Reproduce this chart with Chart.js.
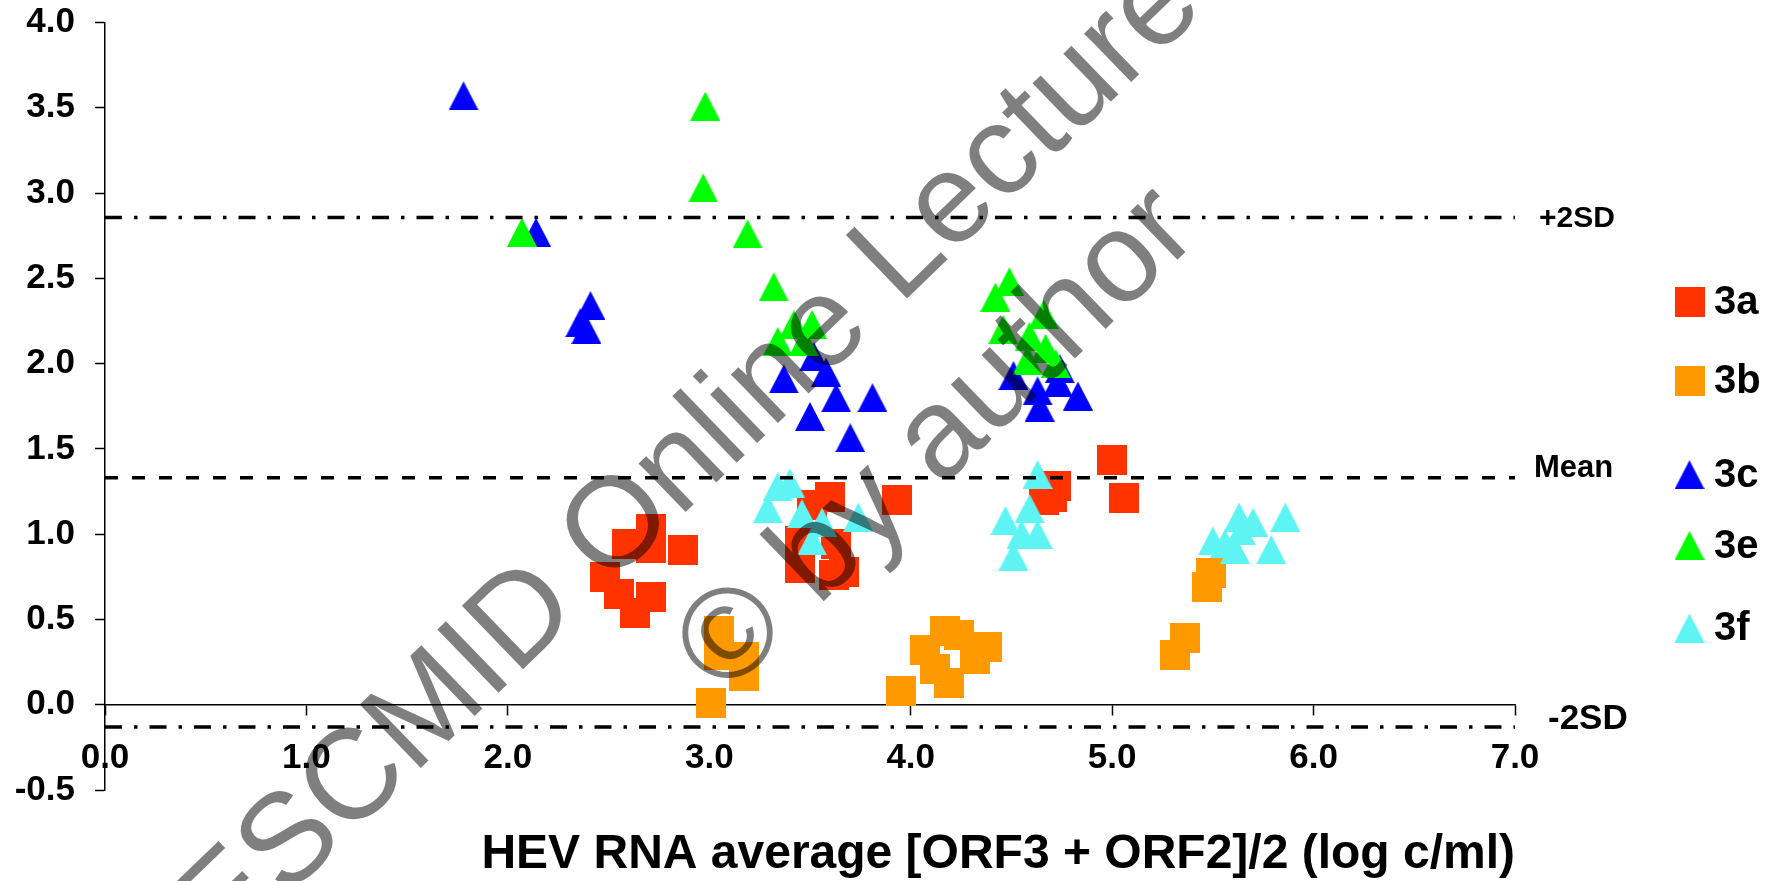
<!DOCTYPE html>
<html>
<head>
<meta charset="utf-8">
<script src="https://cdn.jsdelivr.net/npm/chart.js@4"></script>
<style>
  html, body { margin: 0; padding: 0; background: #fff; }
  #wrap { width: 1775px; height: 881px; }
</style>
</head>
<body>
<div id="wrap"><canvas id="myChart" width="1775" height="881"></canvas></div>
<script>
// genotype series: [average log c/ml, difference]
const g3a = [
  [2.71, 1.03], [2.59, 0.94], [2.71, 0.92], [2.87, 0.91], [2.48, 0.75], [2.55, 0.65],
  [2.71, 0.63], [2.63, 0.54], [3.51, 1.17], [3.60, 1.22], [3.93, 1.20], [3.45, 0.96],
  [3.45, 0.80], [3.63, 0.94], [3.62, 0.76], [3.67, 0.78], [5.00, 1.435], [5.06, 1.21],
  [4.72, 1.28], [4.66, 1.20], [4.70, 1.22]
];
const g3b = [
  [3.05, 0.43], [3.05, 0.29], [3.17, 0.28], [3.17, 0.17], [3.01, 0.01], [3.95, 0.08],
  [4.17, 0.43], [4.24, 0.41], [4.07, 0.32], [4.38, 0.34], [4.32, 0.27], [4.12, 0.21],
  [4.19, 0.13], [5.49, 0.77], [5.47, 0.69], [5.36, 0.39], [5.31, 0.29]
];
const g3c = [
  [1.78, 3.57], [2.14, 2.77], [2.41, 2.34], [2.36, 2.24], [2.39, 2.20], [3.52, 2.04],
  [3.37, 1.91], [3.58, 1.95], [3.63, 1.80], [3.81, 1.80], [3.50, 1.69], [3.70, 1.565],
  [4.51, 1.93], [4.74, 1.97], [4.63, 1.84], [4.73, 1.89], [4.83, 1.81], [4.64, 1.745]
];
const g3e = [
  [2.98, 3.51], [2.97, 3.03], [2.07, 2.77], [3.19, 2.76], [3.32, 2.45], [3.42, 2.23],
  [3.51, 2.23], [3.34, 2.13], [3.47, 2.13], [4.49, 2.48], [4.42, 2.39], [4.46, 2.20],
  [4.66, 2.29], [4.59, 2.16], [4.67, 2.09], [4.58, 2.02], [4.72, 2.00]
];
const g3f = [
  [3.34, 1.28], [3.40, 1.30], [3.29, 1.15], [3.46, 1.12], [3.74, 1.10], [3.56, 1.07],
  [3.51, 0.96], [4.63, 1.35], [4.47, 1.08], [4.59, 1.15], [4.63, 1.00], [4.55, 1.00],
  [4.51, 0.87], [5.63, 1.10], [5.70, 1.07], [5.86, 1.10], [5.50, 0.96], [5.56, 0.945],
  [5.61, 0.91], [5.64, 1.02], [5.79, 0.91]
];
const genotypes = ["3a", "3b", "3c", "3e", "3f"];
const refNames = ["+2SD", "Mean", "-2SD"];
const refValues = [2.856, 1.331, -0.131];
const xRange = [0, 7];
const yRange = [-0.5, 4];

const FONT = '"Liberation Sans", Arial, sans-serif';

function toPoints(arr) {
  return arr.map((p) => ({ x: p[0], y: p[1] }));
}

function markerSquare(color) {
  const c = document.createElement("canvas");
  c.width = 30;
  c.height = 30;
  const ctx = c.getContext("2d");
  ctx.fillStyle = color;
  ctx.fillRect(0, 0, 30, 30);
  return c;
}

function markerTriangle(color) {
  const c = document.createElement("canvas");
  c.width = 30;
  c.height = 29;
  const ctx = c.getContext("2d");
  ctx.fillStyle = color;
  ctx.beginPath();
  ctx.moveTo(15, 0);
  ctx.lineTo(30, 29);
  ctx.lineTo(0, 29);
  ctx.closePath();
  ctx.fill();
  return c;
}

const colors = ["#ff3300", "#ff9900", "#0000ff", "#00ff00", "#5ff4f4"];
const markers = [
  markerSquare(colors[0]),
  markerSquare(colors[1]),
  markerTriangle(colors[2]),
  markerTriangle(colors[3]),
  markerTriangle(colors[4]),
];
const series = [g3a, g3b, g3c, g3e, g3f];

const pointSets = series.map((s, i) => ({
  type: "scatter",
  label: genotypes[i],
  data: toPoints(s),
  pointStyle: markers[i],
  pointRadius: 15,
  pointHoverRadius: 15,
  backgroundColor: colors[i],
  order: 10 - i,
}));

const dashes = [[17, 12, 3.5, 12], [13, 14], [17, 12, 3.5, 12]];
const refSets = refValues.map((v, i) => ({
  type: "line",
  label: refNames[i],
  data: [{ x: xRange[0], y: v }, { x: xRange[1], y: v }],
  borderColor: "#000",
  borderWidth: 3.5,
  borderDash: dashes[i],
  pointRadius: 0,
  fill: false,
  order: 0,
}));

// labels to the right of the reference lines, legend and watermark
const extras = {
  id: "extras",
  afterDraw(chart) {
    const ctx = chart.ctx;
    const ys = chart.scales.y;
    ctx.save();
    ctx.fillStyle = "#000";
    ctx.textAlign = "left";
    ctx.textBaseline = "middle";
    const lx = [1539, 1534, 1548];
    const dy = [1, -9, -8];
    const fs = [30, 31, 35];
    refNames.forEach((name, i) => {
      ctx.font = "bold " + fs[i] + "px " + FONT;
      ctx.fillText(name, lx[i], ys.getPixelForValue(refValues[i]) + dy[i]);
    });

    const rowY = [301.7, 381, 474.7, 545.5, 628];
    genotypes.forEach((g, i) => {
      const m = markers[i];
      ctx.drawImage(m, 1689.5 - m.width / 2, rowY[i] - m.height / 2);
      ctx.font = "bold 40px " + FONT;
      ctx.fillText(g, 1714, rowY[i] + 1);
    });

    ctx.fillStyle = "rgba(0,0,0,0.5)";
    ctx.font = "128px " + FONT;
    ctx.textBaseline = "alphabetic";
    ctx.translate(224, 958);
    ctx.rotate((-44 * Math.PI) / 180);
    ctx.fillText("ESCMID Online Lecture", 0, 0);
    ctx.fillText("\u00a9 by author", 541, 160);
    ctx.restore();
  },
};

const tickFont = { family: FONT, size: 35, weight: "bold" };

new Chart(document.getElementById("myChart"), {
  type: "scatter",
  data: { datasets: pointSets.concat(refSets) },
  options: {
    responsive: false,
    animation: false,
    devicePixelRatio: 1,
    layout: { padding: { top: 22.5, right: 260, bottom: 91, left: 0 } },
    plugins: {
      legend: { display: false },
      tooltip: { enabled: false },
    },
    scales: {
      x: {
        type: "linear",
        min: xRange[0],
        max: xRange[1],
        position: { y: 0 },
        afterFit: (s) => {
          s.height = 91;
          s.paddingLeft = 0;
          s.paddingRight = 0;
        },
        grid: { drawOnChartArea: false, tickLength: 10, tickColor: "#000", tickWidth: 1.5 },
        border: { color: "#000", width: 1.5 },
        ticks: {
          stepSize: 1,
          color: "#000",
          font: tickFont,
          padding: 23,
          maxRotation: 0,
          callback: (v) => v.toFixed(1),
        },
        title: {
          display: true,
          align: "end",
          text: "HEV RNA average [ORF3 + ORF2]/2 (log c/ml)",
          color: "#000",
          font: { family: FONT, size: 48, weight: "bold" },
          padding: { top: 0, bottom: -88 },
        },
      },
      y: {
        type: "linear",
        min: yRange[0],
        max: yRange[1],
        afterFit: (s) => {
          s.width = 105;
          s.paddingTop = 0;
          s.paddingBottom = 0;
        },
        grid: { drawOnChartArea: false, tickLength: 10, tickColor: "#000", tickWidth: 1.5 },
        border: { color: "#000", width: 1.5 },
        ticks: {
          stepSize: 0.5,
          color: "#000",
          font: tickFont,
          padding: 20,
          callback: (v) => v.toFixed(1),
        },
      },
    },
  },
  plugins: [extras],
});
</script>
</body>
</html>
